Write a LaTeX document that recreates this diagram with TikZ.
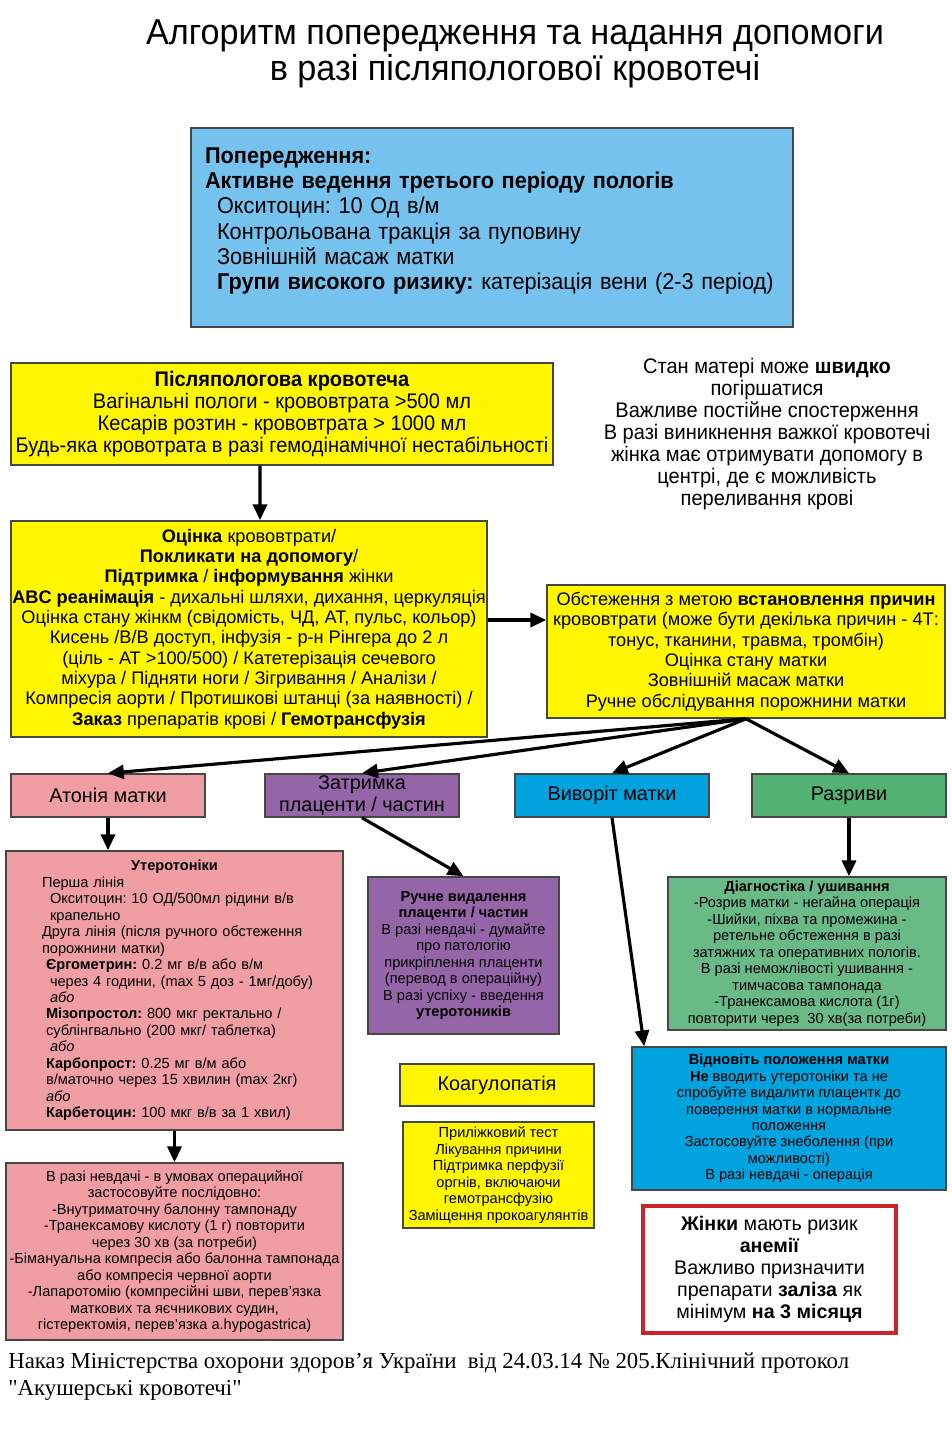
\documentclass[tikz,border=0pt]{standalone}
\usepackage{fontspec}
\setmainfont{Liberation Sans}
\newfontfamily\narrowfont[FakeStretch=0.95]{Liberation Sans}
\newfontfamily\timesfont{Liberation Serif}
\usetikzlibrary{arrows.meta}
\frenchspacing

\definecolor{prevblue}{RGB}{117,194,238}
\definecolor{alertyellow}{RGB}{255,246,0}
\definecolor{atonypink}{RGB}{240,158,164}
\definecolor{placentapurple}{RGB}{148,102,168}
\definecolor{inversionblue}{RGB}{0,163,222}
\definecolor{teargreen}{RGB}{83,178,115}
\definecolor{repairgreen}{RGB}{105,186,135}
\definecolor{boxgray}{RGB}{70,70,70}
\definecolor{warnred}{RGB}{205,35,40}

\tikzset{
  box/.style={draw=boxgray, line width=0.9pt, align=center, inner sep=0pt},
  arr/.style={-{Triangle[length=9pt,width=8pt]}, line width=1.8pt},
  bigtext/.style={font=\narrowfont\fontsize{12}{12.5}\selectfont},
  midtext/.style={font=\fontsize{10.35}{11.55}\selectfont},
  causetext/.style={font=\fontsize{11.3}{12.5}\selectfont},
  smalltext/.style={font=\fontsize{8.3}{9.37}\selectfont}
}

\begin{document}
\begin{tikzpicture}[x=0.02cm, y=-0.02cm]
  \useasboundingbox (0,0) rectangle (952,1434);

  % Title
  \node[align=center, font=\narrowfont\fontsize{20.5}{20.4}\selectfont] (title) at (515,54)
    {Алгоритм попередження та надання допомоги\\ в разі післяпологової кровотечі};

  % Prevention
  \node[box, fill=prevblue, minimum width=12.04cm, minimum height=3.98cm, text width=11.48cm,
        align=left, font=\narrowfont\fontsize{13}{14.4}\selectfont] (prevent) at (492,227.5)
    {\textbf{Попередження:}\\
     \textbf{Активне ведення третього періоду пологів}\\
     \hspace*{0.24cm}Окситоцин: 10 Од в/м\\
     \hspace*{0.24cm}Контрольована тракція за пуповину\\
     \hspace*{0.24cm}Зовнішній масаж матки\\
     \hspace*{0.24cm}\textbf{Групи високого ризику:} катерізація вени (2-3 період)\\[-4.4pt]\mbox{}};

  % Diagnosis and first steps
  \node[box, fill=alertyellow, minimum width=10.84cm, minimum height=2.04cm, bigtext] (pph) at (282,414)
    {\textbf{Післяпологова кровотеча}\\
     Вагінальні пологи - крововтрата >500 мл\\
     Кесарів розтин - крововтрата > 1000 мл\\
     Будь-яка кровотрата в разі гемодінамічної нестабільності};

  \node[align=center, bigtext] (note) at (767,434)
    {Стан матері може \textbf{швидко}\\ погіршатися\\ Важливе постійне спостерження\\
     В разі виникнення важкої кровотечі\\ жінка має отримувати допомогу в\\
     центрі, де є можливість\\ переливання крові};

  \node[box, fill=alertyellow, minimum width=9.52cm, minimum height=4.32cm, midtext] (assess) at (249,629)
    {\textbf{Оцінка} крововтрати/\\
     \textbf{Покликати на допомогу}/\\
     \textbf{Підтримка} / \textbf{інформування} жінки\\
     \textbf{ABC реанімація} - дихальні шляхи, дихання, церкуляція\\
     Оцінка стану жінкм (свідомість, ЧД, АТ, пульс, кольор)\\
     Кисень /В/В доступ, інфузія - р-н Рінгера до 2 л\\
     (ціль - АТ >100/500) / Катетерізація сечевого\\
     міхура / Підняти ноги / Зігривання / Аналізи /\\
     Компресія аорти / Протишкові штанці (за наявності) /\\
     \textbf{Заказ} препаратів крові / \textbf{Гемотрансфузія}};

  \node[box, fill=alertyellow, minimum width=7.96cm, minimum height=2.66cm, midtext] (exam) at (746,651.5)
    {Обстеження з метою \textbf{встановлення причин}\\
     крововтрати (може бути декілька причин - 4Т:\\
     тонус, тканини, травма, тромбін)\\
     Оцінка стану матки\\
     Зовнішній масаж матки\\
     Ручне обслідування порожнини матки};

  % Causes
  \node[box, fill=atonypink, minimum width=3.88cm, minimum height=0.86cm, causetext] (atony) at (108,795.5) {Атонія матки};
  \node[box, fill=placentapurple, minimum width=3.88cm, minimum height=0.86cm, causetext] (retained) at (362,795.5) {Затримка\\ плаценти / частин};
  \node[box, fill=inversionblue, minimum width=3.88cm, minimum height=0.86cm, causetext] (inversion) at (612,795.5) {Виворіт матки};
  \node[box, fill=teargreen, minimum width=3.88cm, minimum height=0.86cm, causetext] (tears) at (849,795.5) {Разриви};

  % Treatment
  \node[box, fill=atonypink, minimum width=6.74cm, minimum height=5.58cm, text width=6.2cm,
        align=left, smalltext] (uter) at (174.5,990.5)
    {\makebox[\linewidth]{\textbf{Утеротоніки}}\\
     \hspace*{0.45cm}Перша лінія\\
     \hspace*{0.61cm}Окситоцин: 10 ОД/500мл рідини в/в\\
     \hspace*{0.61cm}крапельно\\
     \hspace*{0.45cm}Друга лінія (після ручного обстеження\\
     \hspace*{0.45cm}порожнини матки)\\
     \hspace*{0.53cm}\textbf{Єргометрин:} 0.2 мг в/в або в/м\\
     \hspace*{0.61cm}через 4 години, (max 5 доз - 1мг/добу)\\
     \hspace*{0.61cm}\textit{або}\\
     \hspace*{0.53cm}\textbf{Мізопростол:} 800 мкг ректально /\\
     \hspace*{0.53cm}сублінгвально (200 мкг/ таблетка)\\
     \hspace*{0.61cm}\textit{або}\\
     \hspace*{0.53cm}\textbf{Карбопрост:} 0.25 мг в/м або\\
     \hspace*{0.53cm}в/маточно через 15 хвилин (max 2кг)\\
     \hspace*{0.53cm}\textit{або}\\
     \hspace*{0.53cm}\textbf{Карбетоцин:} 100 мкг в/в за 1 хвил)};

  \node[box, fill=atonypink, minimum width=6.74cm, minimum height=3.54cm, smalltext] (failure) at (174.5,1251.5)
    {В разі невдачі - в умовах операцийної\\
     застосовуйте послідовно:\\
     -Внутриматочну балонну тампонаду\\
     -Транексамову кислоту (1 г) повторити\\
     через 30 хв (за потреби)\\
     -Бімануальна компресія або балонна тампонада\\
     або компресія червної аорти\\
     -Лапаротомію (компресійні шви, перев'язка\\
     маткових та яєчникових судин,\\
     гістеректомія, перев'язка a.hypogastrica)};

  \node[box, fill=placentapurple, minimum width=3.82cm, minimum height=3.14cm, smalltext] (removal) at (463.5,955.5)
    {\textbf{Ручне видалення}\\ \textbf{плаценти / частин}\\ В разі невдачі - думайте\\ про патологію\\
     прикріплення плаценти\\ (перевод в операційну)\\ В разі успіху - введення\\ \textbf{утеротоників}};

  \node[box, fill=alertyellow, minimum width=3.88cm, minimum height=0.84cm, causetext] (coag) at (497,1085) {Коагулопатія};
  \node[box, fill=alertyellow, minimum width=3.82cm, minimum height=2.12cm, smalltext] (coagtx) at (498.5,1175)
    {Приліжковий тест\\ Лікування причини\\ Підтримка перфузії\\ оргнів, включаючи\\
     гемотрансфузію\\ Заміщення прокоагулянтів};

  \node[box, fill=repairgreen, minimum width=5.56cm, minimum height=3.06cm, smalltext] (repair) at (807,953.5)
    {\textbf{Діагностіка / ушивання}\\ -Розрив матки - негайна операція\\ -Шийки, піхва та промежина -\\
     ретельне обстеження в разі\\ затяжних та оперативних пологів.\\ В разі неможлівості ушивання -\\
     тимчасова тампонада\\ -Транексамова кислота (1г)\\ повторити через~ 30 хв(за потреби)};

  \node[box, fill=inversionblue, minimum width=6.28cm, minimum height=2.86cm, smalltext] (restore) at (789,1118.5)
    {\textbf{Відновіть положення матки}\\ \textbf{Не} вводить утеротоніки та не\\
     спробуйте видалити плацентк до\\ поверення матки в нормальне\\ положення\\
     Застосовуйте знеболення (при\\ можливості)\\ В разі невдачі - операція};

  \node[box, draw=warnred, line width=1.8pt, fill=white, minimum width=5.06cm, minimum height=2.54cm,
        font=\fontsize{11.2}{12.5}\selectfont] (anaemia) at (769.5,1269.5)
    {\textbf{Жінки} мають ризик\\ \textbf{анемії}\\ Важливо призначити\\
     препарати \textbf{заліза} як\\ мінімум \textbf{на 3 місяця}};

  % Source
  \node[anchor=west, align=left, inner sep=0pt, font=\timesfont\fontsize{13}{15.3}\selectfont] (source) at (8,1376.5)
    {Наказ Міністерства охорони здоров’я України~ від 24.03.14 № 205.Клінічний протокол\\
     "Акушерські кровотечі"};

  % Connectors
  \draw[arr] ([xshift=-0.44cm]pph.south) -- ([xshift=0.22cm]assess.north);
  \draw[arr] ([yshift=0.18cm]assess.east) -- ([yshift=0.18cm]assess.east -| exam.west);
  \foreach \c in {atony, retained, inversion, tears}
    \draw[arr] (exam.south) -- (\c.north);
  \draw[arr] (atony.south) -- (atony.south |- uter.north);
  \draw[arr] (retained.south) -- (removal.north);
  \draw[arr] (inversion.south) -- ([xshift=0.26cm]restore.north west);
  \draw[arr] (tears.south) -- (tears.south |- repair.north);
  \draw[arr] (uter.south) -- (failure.north);
\end{tikzpicture}
\end{document}
